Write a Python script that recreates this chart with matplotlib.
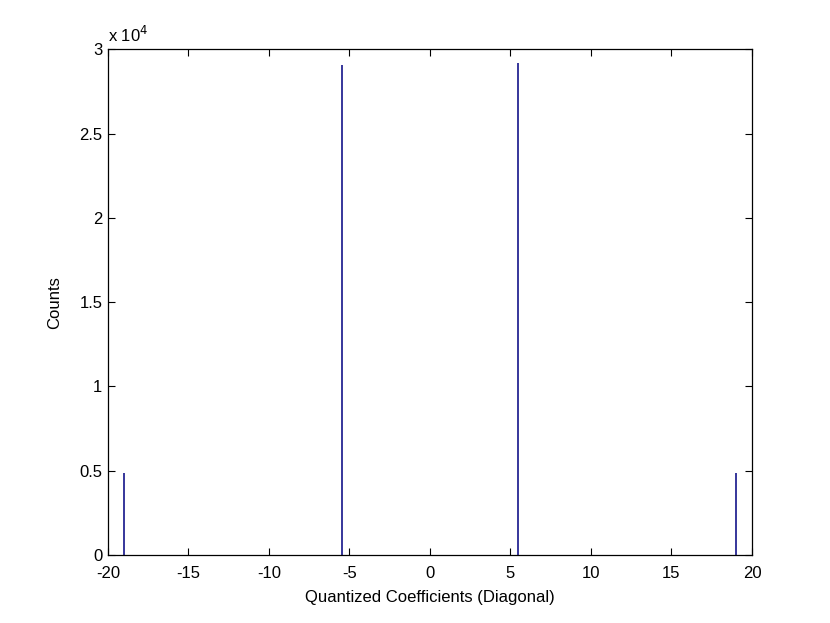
import numpy as np
import matplotlib
matplotlib.use('Agg')
import matplotlib.pyplot as plt
from matplotlib import rcParams

rcParams['font.family'] = 'sans-serif'
rcParams['font.sans-serif'] = ['Liberation Sans']
rcParams['font.size'] = 12

# quantized diagonal coefficients and their counts
coeffs = [-19.0, -5.45, 5.45, 19.0]
counts = [4860, 29050, 29170, 4860]
yticks = [0, 0.5, 1, 1.5, 2, 2.5, 3]
xticks = [-20, -15, -10, -5, 0, 5, 10, 15, 20]

fig = plt.figure(figsize=(8.3, 6.23), dpi=100)
ax = fig.add_axes([0.13, 0.109, 0.776, 0.812])
ax.vlines(coeffs, 0, counts, colors='#000080', linewidth=1.1)

ax.set_xlim(-20, 20)
ax.set_ylim(0, 30000)
ax.set_xticks(xticks)
ax.set_xticklabels([str(t) for t in xticks])
ax.set_yticks([t * 1e4 for t in yticks])
ax.set_yticklabels([('%g' % t) for t in yticks])
ax.tick_params(direction='in', top=True, right=True, length=5, width=0.8)
ax.tick_params(axis='x', pad=8)
ax.tick_params(axis='y', pad=4)
for s in ax.spines.values():
    s.set_linewidth(0.9)

ax.text(0.0, 1.008, r'x 10$^{4}$', transform=ax.transAxes, ha='left', va='bottom')
ax.set_xlabel('Quantized Coefficients (Diagonal)', labelpad=6)
ax.set_ylabel('Counts', labelpad=12)

plt.savefig('out.png', dpi=100)
